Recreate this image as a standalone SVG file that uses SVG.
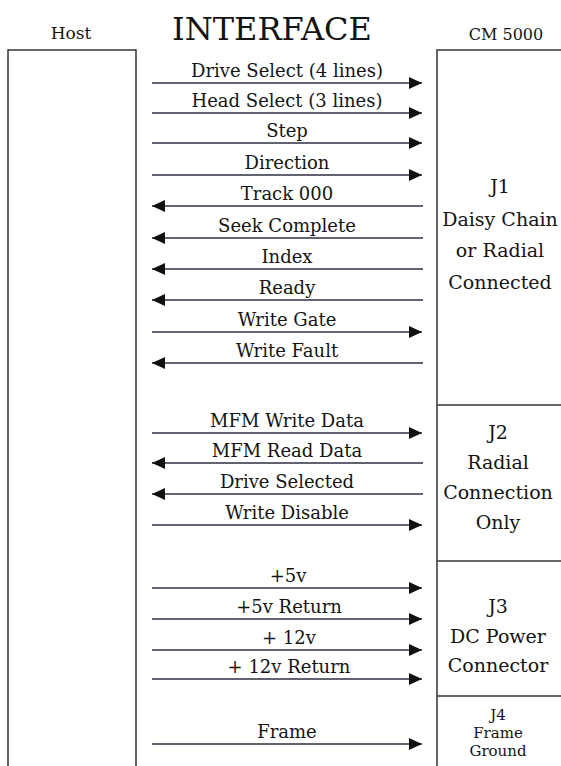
<svg xmlns="http://www.w3.org/2000/svg" width="561" height="766" viewBox="0 0 561 766">
<defs>
<style>
.t{font-family:"DejaVu Serif","Liberation Serif",serif;fill:#141414;text-anchor:middle}
.lab{font-size:18px}
.rl{font-size:19px}
.sm{font-size:15px}
.box{fill:none;stroke:#333;stroke-width:1.5}
.c{stroke:#2c3140;stroke-width:1.3;fill:none;marker-end:url(#ah)}
</style>
<marker id="ah" markerUnits="userSpaceOnUse" markerWidth="14" markerHeight="14" refX="13" refY="6" orient="auto">
<path d="M0,0 L13,6 L0,12 z" fill="#111"/>
</marker>
</defs>
<rect width="561" height="766" fill="#fff"/>
<g id="header">
<text class="t" x="71" y="39" font-size="17">Host</text>
<text class="t" x="272" y="40" font-size="32">INTERFACE</text>
<text class="t" x="506" y="40" font-size="16">CM 5000</text>
</g>
<g id="host">
<path class="box" d="M8,766 V50 H136 V766"/>
</g>
<g id="cm5000">
<path class="box" d="M561,50 H437 V766"/>
</g>
<g id="j1">
<text class="t rl" x="500" y="193">J1</text>
<text class="t rl" x="500" y="226">Daisy Chain</text>
<text class="t rl" x="500" y="257">or Radial</text>
<text class="t rl" x="500" y="289">Connected</text>
</g>
<g id="j2">
<path class="box" d="M437,405 H561"/>
<text class="t rl" x="498" y="439">J2</text>
<text class="t rl" x="498" y="469">Radial</text>
<text class="t rl" x="498" y="499">Connection</text>
<text class="t rl" x="498" y="529">Only</text>
</g>
<g id="j3">
<path class="box" d="M437,561 H561"/>
<text class="t rl" x="498" y="613">J3</text>
<text class="t rl" x="498" y="643">DC Power</text>
<text class="t rl" x="498" y="672">Connector</text>
</g>
<g id="j4">
<path class="box" d="M437,696 H561"/>
<text class="t sm" x="498" y="720">J4</text>
<text class="t sm" x="498" y="738">Frame</text>
<text class="t sm" x="498" y="756">Ground</text>
</g>
<g id="connectors">
<line class="c" x1="152" y1="83" x2="422" y2="83"/>
<line class="c" x1="152" y1="113" x2="422" y2="113"/>
<line class="c" x1="152" y1="143" x2="422" y2="143"/>
<line class="c" x1="152" y1="175" x2="422" y2="175"/>
<line class="c" x1="423" y1="206" x2="152" y2="206"/>
<line class="c" x1="423" y1="238" x2="152" y2="238"/>
<line class="c" x1="423" y1="269" x2="152" y2="269"/>
<line class="c" x1="423" y1="300" x2="152" y2="300"/>
<line class="c" x1="152" y1="332" x2="422" y2="332"/>
<line class="c" x1="423" y1="363" x2="152" y2="363"/>
<line class="c" x1="152" y1="433" x2="422" y2="433"/>
<line class="c" x1="423" y1="463" x2="152" y2="463"/>
<line class="c" x1="423" y1="494" x2="152" y2="494"/>
<line class="c" x1="152" y1="525" x2="422" y2="525"/>
<line class="c" x1="152" y1="588" x2="422" y2="588"/>
<line class="c" x1="152" y1="619" x2="422" y2="619"/>
<line class="c" x1="152" y1="650" x2="422" y2="650"/>
<line class="c" x1="152" y1="679" x2="422" y2="679"/>
<line class="c" x1="152" y1="744" x2="422" y2="744"/>
</g>
<g id="labels">
<text class="t lab" x="287" y="77">Drive Select (4 lines)</text>
<text class="t lab" x="287" y="107">Head Select (3 lines)</text>
<text class="t lab" x="287" y="137">Step</text>
<text class="t lab" x="287" y="169">Direction</text>
<text class="t lab" x="287" y="200">Track 000</text>
<text class="t lab" x="287" y="232">Seek Complete</text>
<text class="t lab" x="287" y="263">Index</text>
<text class="t lab" x="287" y="294">Ready</text>
<text class="t lab" x="287" y="326">Write Gate</text>
<text class="t lab" x="287" y="357">Write Fault</text>
<text class="t lab" x="287" y="427">MFM Write Data</text>
<text class="t lab" x="287" y="457">MFM Read Data</text>
<text class="t lab" x="287" y="488">Drive Selected</text>
<text class="t lab" x="287" y="519">Write Disable</text>
<text class="t lab" x="288" y="582">+5v</text>
<text class="t lab" x="289" y="613">+5v Return</text>
<text class="t lab" x="289" y="644">+ 12v</text>
<text class="t lab" x="289" y="673">+ 12v Return</text>
<text class="t lab" x="287" y="738">Frame</text>
</g>
</svg>
